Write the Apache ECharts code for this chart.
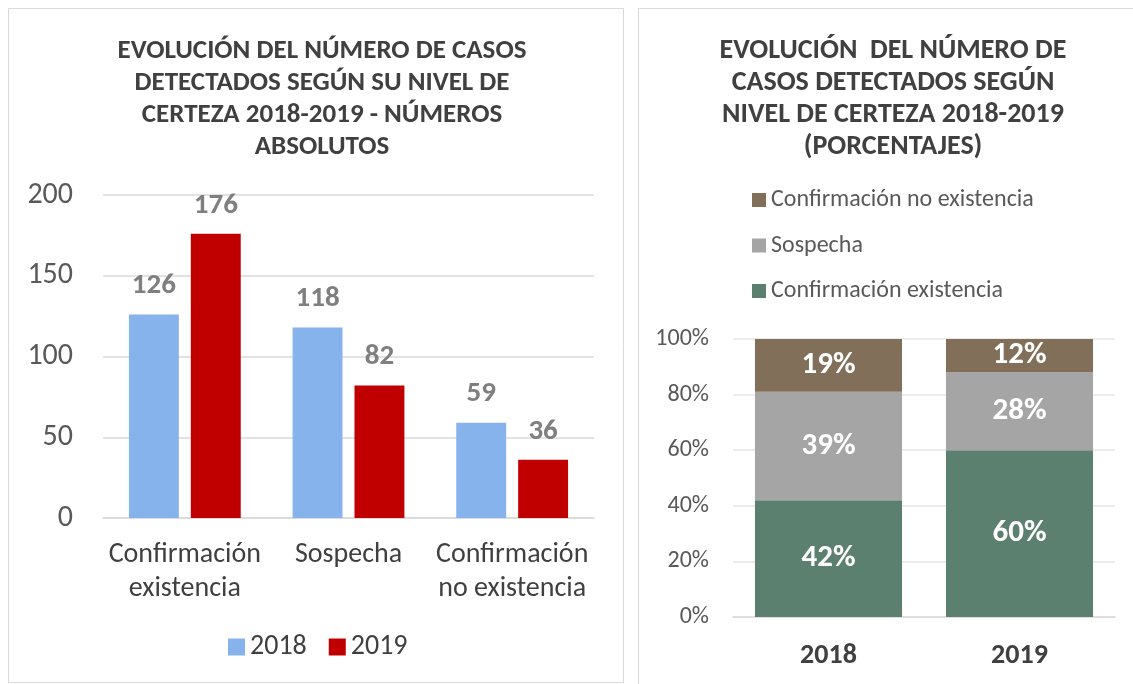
<!DOCTYPE html>
<html>
<head>
<meta charset="utf-8">
<script src="https://cdn.jsdelivr.net/npm/echarts@6/dist/echarts.min.js"></script>
<style>
  html, body { margin: 0; padding: 0; background: #fff; }
  #chart { width: 1133px; height: 684px; }
</style>
</head>
<body>
<div id="chart"></div>
<script>
// datos del gráfico de números absolutos
const nivelCategorias = ['Confirmación\nexistencia', 'Sospecha', 'Confirmación\nno existencia'];
const casos2018 = [126, 118, 59];
const casos2019 = [176, 82, 36];

// datos del gráfico de porcentajes
const anios = ['2018', '2019'];
const pctExistencia = [42, 60];
const pctSospecha = [39, 28];
const pctNoExistencia = [19, 12];
const pctTicks = [0, 20, 40, 60, 80, 100];

const FONT = "Carlito, 'Open Sans', sans-serif";

const chart = echarts.init(document.getElementById('chart'));
chart.setOption({
    animation: false,
    textStyle: { fontFamily: FONT },
    graphic: [
        { type: 'rect', shape: { x: 8.5, y: 8.5, width: 615, height: 674 }, style: { fill: 'none', stroke: '#d9d9d9', lineWidth: 1 } },
        { type: 'rect', shape: { x: 638.5, y: 8.5, width: 500, height: 690 }, style: { fill: 'none', stroke: '#d9d9d9', lineWidth: 1 } }
    ],
    title: [{
        text: 'EVOLUCIÓN DEL NÚMERO DE CASOS\nDETECTADOS SEGÚN SU NIVEL DE\nCERTEZA 2018-2019 - NÚMEROS\nABSOLUTOS',
        left: 317, top: 30, textAlign: 'center',
        textStyle: { fontFamily: FONT, fontSize: 27, fontWeight: 'bold', color: '#404040', lineHeight: 32 }
    }, {
        text: 'EVOLUCIÓN  DEL NÚMERO DE\nCASOS DETECTADOS SEGÚN\nNIVEL DE CERTEZA 2018-2019\n(PORCENTAJES)',
        left: 888, top: 30, textAlign: 'center',
        textStyle: { fontFamily: FONT, fontSize: 28, fontWeight: 'bold', color: '#404040', lineHeight: 32 }
    }],
    legend: [{
        data: ['2018', '2019'],
        left: 228, top: 633,
        itemWidth: 17, itemHeight: 17, itemGap: 22,
        icon: 'rect',
        textStyle: { fontFamily: FONT, fontSize: 28, color: '#404040', lineHeight: 28 },
        padding: 0
    }, {
        data: ['Confirmación no existencia', 'Sospecha', 'Confirmación existencia'],
        orient: 'vertical', left: 752, top: 188,
        itemWidth: 14, itemHeight: 14, itemGap: 21.5,
        icon: 'rect',
        textStyle: { fontFamily: FONT, fontSize: 24, color: '#595959', lineHeight: 24 },
        padding: 0
    }],
    grid: [
        { left: 103, right: 539, top: 195, bottom: 166 },
        { left: 733, right: 18, top: 339, bottom: 67 }
    ],
    xAxis: [{
        type: 'category', gridIndex: 0, data: nivelCategorias,
        axisLine: { lineStyle: { color: '#d9d9d9', width: 1.5 } },
        axisTick: { show: false },
        axisLabel: { fontSize: 28, color: '#404040', lineHeight: 34, margin: 20, interval: 0 }
    }, {
        type: 'category', gridIndex: 1, data: anios,
        axisLine: { lineStyle: { color: '#d9d9d9', width: 1.5 } },
        axisTick: { show: false },
        axisLabel: { fontSize: 28, fontWeight: 'bold', color: '#404040', margin: 25 }
    }],
    yAxis: [{
        type: 'value', gridIndex: 0, min: 0, max: 200, interval: 50,
        axisLine: { show: false }, axisTick: { show: false },
        splitLine: { lineStyle: { color: '#d9d9d9', width: 1.5 } },
        axisLabel: { fontSize: 30, color: '#595959', margin: 30 }
    }, {
        type: 'value', gridIndex: 1, min: pctTicks[0], max: pctTicks[pctTicks.length - 1], interval: 20,
        axisLine: { show: false }, axisTick: { show: false },
        splitLine: { lineStyle: { color: '#e6e6e6', width: 1.5 } },
        axisLabel: { fontSize: 24, color: '#595959', margin: 24, formatter: '{value}%' }
    }],
    series: [{
        name: '2018', type: 'bar', xAxisIndex: 0, yAxisIndex: 0, data: casos2018,
        itemStyle: { color: '#86b3eb' }, barWidth: '30.5%', barGap: '24%',
        label: { show: true, position: 'top', distance: 14, fontSize: 29, fontWeight: 'bold', color: '#7f7f7f' }
    }, {
        name: '2019', type: 'bar', xAxisIndex: 0, yAxisIndex: 0, data: casos2019,
        itemStyle: { color: '#c00000' }, barWidth: '30.5%', barGap: '24%',
        label: { show: true, position: 'top', distance: 14, fontSize: 29, fontWeight: 'bold', color: '#7f7f7f' }
    }, {
        name: 'Confirmación existencia', type: 'bar', stack: 'pct', xAxisIndex: 1, yAxisIndex: 1,
        data: pctExistencia, barWidth: '77%', itemStyle: { color: '#5b8070' },
        label: { show: true, position: 'inside', formatter: '{c}%', fontSize: 31, fontWeight: 'bold', color: '#fff' }
    }, {
        name: 'Sospecha', type: 'bar', stack: 'pct', xAxisIndex: 1, yAxisIndex: 1,
        data: pctSospecha, barWidth: '77%', itemStyle: { color: '#a5a5a5' },
        label: { show: true, position: 'inside', formatter: '{c}%', fontSize: 31, fontWeight: 'bold', color: '#fff' }
    }, {
        name: 'Confirmación no existencia', type: 'bar', stack: 'pct', xAxisIndex: 1, yAxisIndex: 1,
        data: pctNoExistencia, barWidth: '77%', itemStyle: { color: '#826f5a' },
        label: { show: true, position: 'inside', formatter: '{c}%', fontSize: 31, fontWeight: 'bold', color: '#fff' }
    }]
});
</script>
</body>
</html>
